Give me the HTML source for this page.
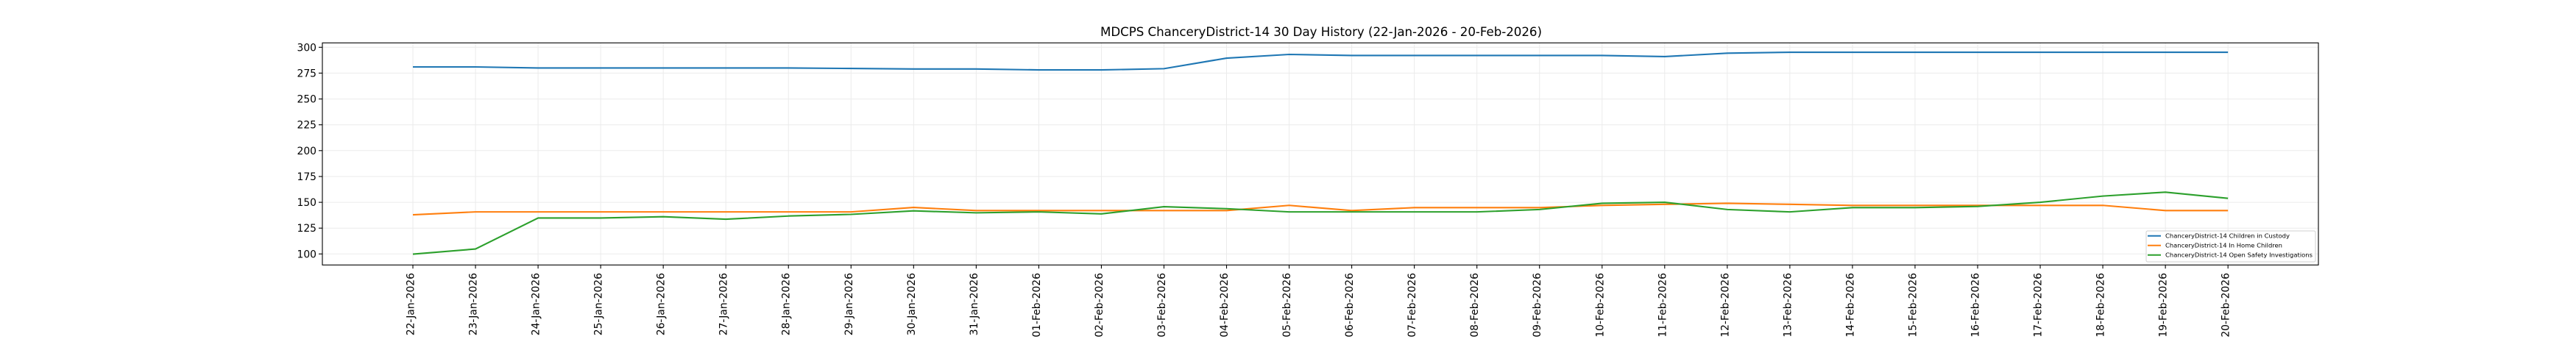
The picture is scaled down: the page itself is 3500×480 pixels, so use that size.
<!DOCTYPE html>
<html><head><meta charset="utf-8"><style>html,body{margin:0;padding:0;background:#fff}svg{display:block}</style></head>
<body>
<svg width="3500" height="480" xmlns="http://www.w3.org/2000/svg" font-family="DejaVu Sans, Liberation Sans, sans-serif">
<rect width="3500" height="480" fill="#fff"/>
<text x="1795" y="49" font-size="16.7" text-anchor="middle" textLength="600" fill="#000">MDCPS ChanceryDistrict-14 30 Day History (22-Jan-2026 - 20-Feb-2026)</text>
<g id="grid" stroke="#ebebeb" stroke-width="1">
<line x1="438" x2="3150" y1="64.3" y2="64.3"/><line x1="438" x2="3150" y1="99.4" y2="99.4"/><line x1="438" x2="3150" y1="134.6" y2="134.6"/><line x1="438" x2="3150" y1="169.7" y2="169.7"/><line x1="438" x2="3150" y1="204.8" y2="204.8"/><line x1="438" x2="3150" y1="240" y2="240"/><line x1="438" x2="3150" y1="275.1" y2="275.1"/><line x1="438" x2="3150" y1="310.2" y2="310.2"/><line x1="438" x2="3150" y1="345.3" y2="345.3"/>
</g>
<g id="vg" stroke="#ebebeb" stroke-width="1"></g>
<g transform="translate(561,485.8) scale(85.04,-1.405)" fill="none" stroke-width="2.1" stroke-linejoin="round">
<polyline vector-effect="non-scaling-stroke" stroke="#1f77b4" points="0,281 1,281 2,280 3,280 4,280 5,280 6,280 7,279.5 8,279 9,279 10,278.1 11,278.1 12,279.3 13,289.5 14,293.1 15,292.1 16,292.1 17,292.1 18,292.1 19,292.1 20,291 21,294.3 22,295.2 23,295.2 24,295.2 25,295.2 26,295.2 27,295.2 28,295.2 29,295.2"/>
<polyline vector-effect="non-scaling-stroke" stroke="#ff7f0e" points="0,137.9 1,140.7 2,140.7 3,140.7 4,140.7 5,140.7 6,140.7 7,140.7 8,145 9,142 10,142 11,142 12,142 13,142 14,147 15,142 16,144.8 17,144.8 18,144.8 19,147 20,148 21,149 22,148 23,147 24,147 25,147 26,147 27,147 28,142 29,142"/>
<polyline vector-effect="non-scaling-stroke" stroke="#2ca02c" points="0,99.8 1,104.8 2,134.8 3,134.8 4,136 5,133.6 6,136.7 7,138.3 8,141.7 9,139.8 10,140.7 11,138.8 12,145.7 13,143.8 14,140.7 15,140.7 16,140.7 17,140.7 18,143 19,149 20,150 21,143 22,140.7 23,144.8 24,144.8 25,146 26,150 27,156 28,159.8 29,153.8"/>
</g>
<rect x="438" y="58.3" width="2712" height="302" fill="none" stroke="#000" stroke-width="1.1"/>
<g stroke="#000" stroke-width="1.1">
<line x1="433" x2="438" y1="64.3" y2="64.3"/><line x1="433" x2="438" y1="99.4" y2="99.4"/><line x1="433" x2="438" y1="134.6" y2="134.6"/><line x1="433" x2="438" y1="169.7" y2="169.7"/><line x1="433" x2="438" y1="204.8" y2="204.8"/><line x1="433" x2="438" y1="240" y2="240"/><line x1="433" x2="438" y1="275.1" y2="275.1"/><line x1="433" x2="438" y1="310.2" y2="310.2"/><line x1="433" x2="438" y1="345.3" y2="345.3"/>
</g>
<g font-size="13.9" text-anchor="end" fill="#000">
<text x="430" y="69.3">300</text><text x="430" y="104.4">275</text><text x="430" y="139.6">250</text><text x="430" y="174.7">225</text><text x="430" y="209.8">200</text><text x="430" y="245">175</text><text x="430" y="280.1">150</text><text x="430" y="315.2">125</text><text x="430" y="350.3">100</text>
</g>
<g id="xt" stroke="#000" stroke-width="1.1"></g>
<g id="xl" font-size="13.9" text-anchor="end" fill="#000"></g>
<g>
<rect x="2916" y="314" width="230" height="42" rx="2" fill="#fff" fill-opacity="0.8" stroke="#d0d0d0" stroke-width="1"/>
<line x1="2918" x2="2936" y1="320.7" y2="320.7" stroke="#1f77b4" stroke-width="2"/>
<line x1="2918" x2="2936" y1="333.7" y2="333.7" stroke="#ff7f0e" stroke-width="2"/>
<line x1="2918" x2="2936" y1="346.7" y2="346.7" stroke="#2ca02c" stroke-width="2"/>
<g font-size="8.3" fill="#000">
<text x="2942" y="323.6" textLength="169" lengthAdjust="spacingAndGlyphs">ChanceryDistrict-14 Children in Custody</text>
<text x="2942" y="336.6" textLength="159" lengthAdjust="spacingAndGlyphs">ChanceryDistrict-14 In Home Children</text>
<text x="2942" y="349.6" textLength="200" lengthAdjust="spacingAndGlyphs">ChanceryDistrict-14 Open Safety Investigations</text>
</g>
</g>
<script>
var labels=["22-Jan-2026","23-Jan-2026","24-Jan-2026","25-Jan-2026","26-Jan-2026","27-Jan-2026","28-Jan-2026","29-Jan-2026","30-Jan-2026","31-Jan-2026","01-Feb-2026","02-Feb-2026","03-Feb-2026","04-Feb-2026","05-Feb-2026","06-Feb-2026","07-Feb-2026","08-Feb-2026","09-Feb-2026","10-Feb-2026","11-Feb-2026","12-Feb-2026","13-Feb-2026","14-Feb-2026","15-Feb-2026","16-Feb-2026","17-Feb-2026","18-Feb-2026","19-Feb-2026","20-Feb-2026"];
var NS="http://www.w3.org/2000/svg",vg=document.getElementById("vg"),xt=document.getElementById("xt"),xl=document.getElementById("xl");
for(var i=0;i<30;i++){var x=561+85.04*i;
var g=document.createElementNS(NS,"line");g.setAttribute("x1",x);g.setAttribute("x2",x);g.setAttribute("y1",58.3);g.setAttribute("y2",360.3);vg.appendChild(g);
var t=document.createElementNS(NS,"line");t.setAttribute("x1",x);t.setAttribute("x2",x);t.setAttribute("y1",360.3);t.setAttribute("y2",365.2);xt.appendChild(t);
var l=document.createElementNS(NS,"text");l.setAttribute("transform","translate("+(x+1.5)+",371) rotate(-90)");l.textContent=labels[i];xl.appendChild(l);}
</script>
</svg>
</body></html>
